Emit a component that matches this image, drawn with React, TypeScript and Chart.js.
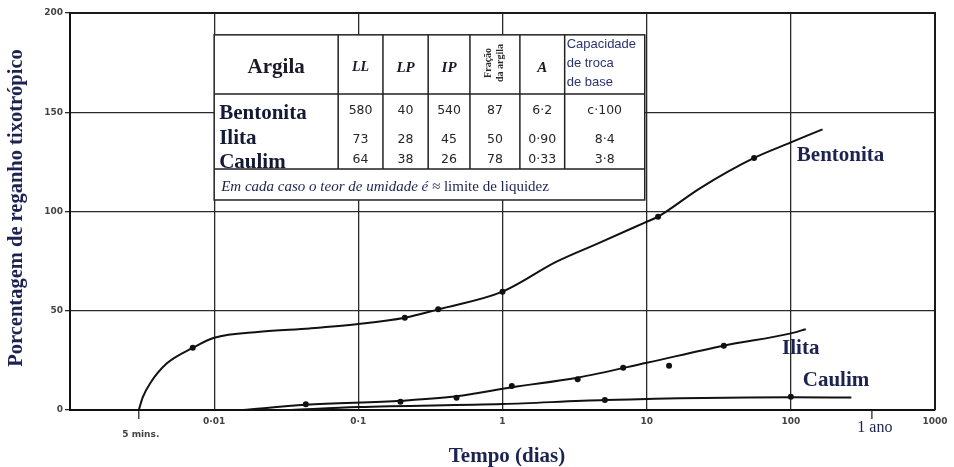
import React, { useEffect, useRef } from 'react';
import { Chart, registerables } from 'chart.js';

Chart.register(...registerables);

// ---------------- data ----------------
const xTickValues = [0.001, 0.01, 0.1, 1, 10, 100, 1000];
const xTickLabels = ['', '0·01', '0·1', '1', '10', '100', '1000'];
const yTickValues = [0, 50, 100, 150, 200];
const extraXTickValues = [0.003, 365];
const extraXTickLabels = ['5 mins.', '1 ano'];

// curves (days, % regain)
const bentonitaLineX = [0.003, 0.0032, 0.0036, 0.0047, 0.0071, 0.01, 0.0208, 0.0461, 0.1, 0.21, 0.358, 1.0, 2.37, 4.73, 9.7, 12.0, 23.4, 55.6, 100, 166];
const bentonitaLineY = [0, 6.5, 13.5, 23.5, 31.3, 36.4, 39.4, 41.1, 43.3, 46.5, 50.7, 59.6, 74.7, 84.3, 94.4, 97.4, 111.7, 127, 134.8, 141.4];
const ilitaLineX = [0.0158, 0.043, 0.2, 0.48, 1.16, 3.3, 10, 34.3, 100, 127];
const ilitaLineY = [0, 2.6, 4.7, 6.9, 11.5, 16.3, 23.8, 32.4, 38.6, 40.7];
const caulimLineX = [0.034, 0.1, 1, 5.13, 100, 263];
const caulimLineY = [0, 1.5, 3.0, 5.0, 6.4, 6.3];

// measured points
const bentonitaDotX = [0.0071, 0.21, 0.358, 1.0, 12.0, 55.6];
const bentonitaDotY = [31.3, 46.5, 50.7, 59.6, 97.4, 127];
const ilitaDotX = [0.0432, 0.196, 0.48, 1.16, 3.32, 6.87, 14.3, 34.3];
const ilitaDotY = [2.9, 4.2, 6.2, 12.1, 15.5, 21.3, 22.3, 32.4];
const caulimDotX = [5.13, 100];
const caulimDotY = [5.0, 6.7];

const seriesNames = ['Bentonita', 'Ilita', 'Caulim'];

// table
const tableHeaders = ['Argila', 'LL', 'LP', 'IP', 'A'];
const fracaoHeader = ['Fração', 'da argila'];
const ctcHeader = ['Capacidade', 'de troca', 'de base'];
const tableLL = ['580', '73', '64'];
const tableLP = ['40', '28', '38'];
const tableIP = ['540', '45', '26'];
const tableFracao = ['87', '50', '78'];
const tableA = ['6·2', '0·90', '0·33'];
const tableCTC = ['c·100', '8·4', '3·8'];
const footerItalic = 'Em cada caso o teor de umidade é ≈ ';
const footerRegular = 'limite de liquidez';

const yTitle = 'Porcentagem de reganho tixotrópico';
const xTitle = 'Tempo (dias)';

// ---------------- helpers ----------------
const pts = (xs: number[], ys: number[]) => xs.map((x, i) => ({ x, y: ys[i] }));
const SERIF = '"Liberation Serif", "Times New Roman", serif';
const SANS = '"DejaVu Sans", sans-serif';
const NAVY = '#1c2350';

function txt(ctx: CanvasRenderingContext2D, s: string, x: number, y: number, font: string, color: string, align: CanvasTextAlign = 'center', baseline: CanvasTextBaseline = 'middle') {
  ctx.font = font;
  ctx.fillStyle = color;
  ctx.textAlign = align;
  ctx.textBaseline = baseline;
  ctx.fillText(s, x, y);
}

const overlayPlugin = {
  id: 'overlay',
  afterDraw(chart: any) {
    const ctx: CanvasRenderingContext2D = chart.ctx;
    const xs = chart.scales.x;
    const ys = chart.scales.y;
    const area = chart.chartArea;
    ctx.save();

    // top and right frame
    ctx.strokeStyle = '#1a1a1a';
    ctx.lineWidth = 2;
    ctx.beginPath();
    ctx.moveTo(area.left, area.top);
    ctx.lineTo(area.right, area.top);
    ctx.lineTo(area.right, area.bottom);
    ctx.stroke();

    // extra ticks (5 mins, 1 ano)
    ctx.lineWidth = 1.2;
    extraXTickValues.forEach((v) => {
      const px = xs.getPixelForValue(v);
      ctx.beginPath();
      ctx.moveTo(px, area.bottom);
      ctx.lineTo(px, area.bottom + 9);
      ctx.stroke();
    });
    txt(ctx, extraXTickLabels[0], xs.getPixelForValue(extraXTickValues[0]) + 2, area.bottom + 25, 'bold 9px ' + SANS, '#444');
    txt(ctx, extraXTickLabels[1], xs.getPixelForValue(extraXTickValues[1]) + 3, area.bottom + 18, '16px ' + SERIF, NAVY);

    // ---- table ----
    const L = xs.getPixelForValue(0.01);
    const R = xs.getPixelForValue(9.7);
    const T = ys.getPixelForValue(189);
    const B = ys.getPixelForValue(105.8);
    const W = R - L;
    const H = B - T;
    const cx = (f: number) => L + f * W;
    const cy = (f: number) => T + f * H;
    const cols = [0, 0.288, 0.392, 0.497, 0.594, 0.71, 0.814, 1];
    const headBottom = cy(0.358);
    const dataBottom = cy(0.812);

    ctx.fillStyle = '#ffffff';
    ctx.fillRect(L, T, W, H);
    ctx.strokeStyle = '#222';
    ctx.lineWidth = 1.5;
    ctx.strokeRect(L, T, W, H);
    ctx.beginPath();
    ctx.moveTo(L, headBottom); ctx.lineTo(R, headBottom);
    ctx.moveTo(L, dataBottom); ctx.lineTo(R, dataBottom);
    for (let i = 1; i < cols.length - 1; i++) {
      ctx.moveTo(cx(cols[i]), T);
      ctx.lineTo(cx(cols[i]), dataBottom);
    }
    ctx.stroke();

    const mid = (i: number) => (cx(cols[i]) + cx(cols[i + 1])) / 2;
    const hy = cy(0.2);
    txt(ctx, tableHeaders[0], mid(0), hy, 'bold 21px ' + SERIF, '#1a1a2a');
    txt(ctx, tableHeaders[1], mid(1), hy, 'italic bold 14px ' + SERIF, '#1a1a2a');
    txt(ctx, tableHeaders[2], mid(2), hy, 'italic bold 15px ' + SERIF, '#1a1a2a');
    txt(ctx, tableHeaders[3], mid(3), hy, 'italic bold 15px ' + SERIF, '#1a1a2a');
    txt(ctx, tableHeaders[4], mid(5), hy, 'italic bold 15px ' + SERIF, '#1a1a2a');
    // rotated Fração da argila
    ctx.save();
    ctx.translate(mid(4), cy(0.17));
    ctx.rotate(-Math.PI / 2);
    txt(ctx, fracaoHeader[0], 0, -6, 'bold 10px ' + SERIF, '#2a2a2a');
    txt(ctx, fracaoHeader[1], 0, 6, 'bold 10px ' + SERIF, '#2a2a2a');
    ctx.restore();
    ctcHeader.forEach((s, i) => {
      txt(ctx, s, cx(cols[6]) + 2, cy(0.06 + i * 0.115), '13px "Liberation Sans", Arial, sans-serif', '#2b3470', 'left');
    });

    const nameBase = [0.509, 0.661, 0.806];
    const valY = [0.46, 0.636, 0.758];
    seriesNames.forEach((n, r) => {
      txt(ctx, n, L + 5, cy(nameBase[r]), 'bold 21px ' + SERIF, '#141a33', 'left', 'alphabetic');
      const vals = [tableLL[r], tableLP[r], tableIP[r], tableFracao[r], tableA[r], tableCTC[r]];
      vals.forEach((v, c) => {
        txt(ctx, v, mid(c + 1), cy(valY[r]), '12.5px ' + SANS, '#262626');
      });
    });

    // footer
    const fy = cy(0.92);
    ctx.font = 'italic 15px ' + SERIF;
    const w1 = ctx.measureText(footerItalic).width;
    txt(ctx, footerItalic, L + 7, fy, 'italic 15px ' + SERIF, NAVY, 'left');
    txt(ctx, footerRegular, L + 7 + w1, fy, '15px ' + SERIF, NAVY, 'left');

    // series labels
    const labelPos = [[110, 128], [87, 30.7], [121, 15]];
    seriesNames.forEach((n, i) => {
      txt(ctx, n, xs.getPixelForValue(labelPos[i][0]), ys.getPixelForValue(labelPos[i][1]), 'bold 21px ' + SERIF, NAVY, 'left');
    });

    // axis titles
    txt(ctx, xTitle, 507, 457, 'bold 21px ' + SERIF, NAVY);
    ctx.save();
    ctx.translate(17, 208);
    ctx.rotate(-Math.PI / 2);
    txt(ctx, yTitle, 0, 0, 'bold 20.5px ' + SERIF, NAVY);
    ctx.restore();

    ctx.restore();
  },
};

export default function App() {
  const ref = useRef<HTMLCanvasElement | null>(null);
  useEffect(() => {
    if (!ref.current) return;
    const lineStyle = { borderColor: '#111', borderWidth: 2, pointRadius: 0, cubicInterpolationMode: 'monotone' as const, fill: false };
    const dotStyle = { showLine: false, pointRadius: 3, pointBackgroundColor: '#111', pointBorderWidth: 0, borderColor: '#111' };
    const chart = new Chart(ref.current, {
      type: 'line',
      data: {
        datasets: [
          { label: seriesNames[0], data: pts(bentonitaLineX, bentonitaLineY), ...lineStyle },
          { label: seriesNames[1], data: pts(ilitaLineX, ilitaLineY), ...lineStyle },
          { label: seriesNames[2], data: pts(caulimLineX, caulimLineY), ...lineStyle },
          { label: seriesNames[0] + ' pts', data: pts(bentonitaDotX, bentonitaDotY), ...dotStyle },
          { label: seriesNames[1] + ' pts', data: pts(ilitaDotX, ilitaDotY), ...dotStyle },
          { label: seriesNames[2] + ' pts', data: pts(caulimDotX, caulimDotY), ...dotStyle },
        ] as any,
      },
      options: {
        responsive: false,
        animation: false,
        layout: { padding: { top: 13, right: 19, left: 0, bottom: 0 } },
        plugins: { legend: { display: false }, tooltip: { enabled: false }, title: { display: false } },
        scales: {
          x: {
            type: 'logarithmic',
            min: 0.001,
            max: 1000,
            afterBuildTicks: (s: any) => { s.ticks = xTickValues.map((v) => ({ value: v })); },
            afterFit: (s: any) => { s.height = 57; },
            ticks: {
              autoSkip: false,
              maxRotation: 0,
              padding: 6,
              font: { family: 'DejaVu Sans', size: 9, weight: 'bold' },
              color: '#444',
              callback: (_v: any, i: number) => xTickLabels[i],
            },
            grid: { color: '#2a2a2a', lineWidth: 1.3, drawTicks: false },
            border: { display: true, color: '#111', width: 2 },
          },
          y: {
            min: 0,
            max: 200,
            afterBuildTicks: (s: any) => { s.ticks = yTickValues.map((v) => ({ value: v })); },
            afterFit: (s: any) => { s.width = 70; },
            ticks: {
              padding: 2,
              font: { family: 'DejaVu Sans', size: 9, weight: 'bold' },
              color: '#444',
            },
            grid: { color: '#2a2a2a', lineWidth: 1.3, tickLength: 5 },
            border: { display: true, color: '#111', width: 2 },
          },
        },
      } as any,
      plugins: [overlayPlugin],
    });
    return () => chart.destroy();
  }, []);
  return (
    <div style={{ position: 'absolute', left: 0, top: 0, width: 954, height: 467, background: '#fff' }}>
      <canvas ref={ref} width={954} height={467} style={{ display: 'block' }} />
    </div>
  );
}
